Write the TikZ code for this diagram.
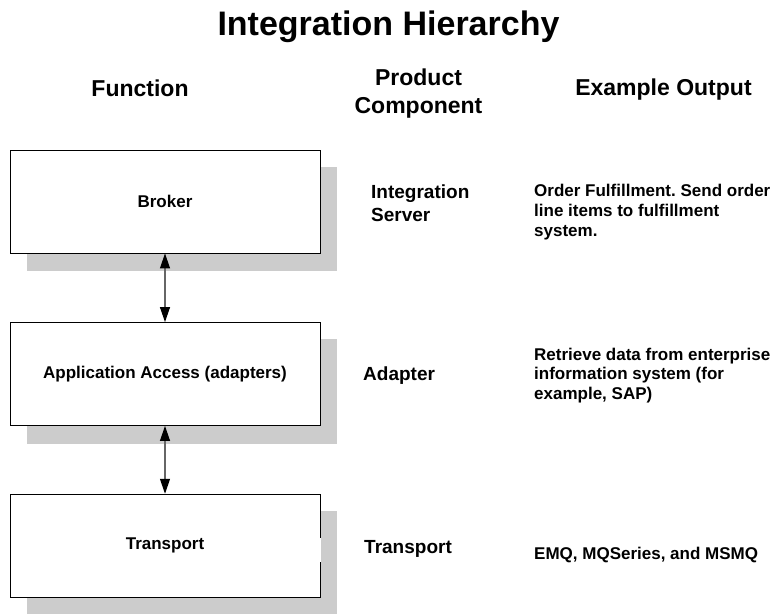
\documentclass[tikz,border=0pt]{standalone}
\usepackage{fontspec}
\setmainfont{Liberation Sans}
\usetikzlibrary{arrows.meta,calc,backgrounds}
\frenchspacing

\tikzset{
  layerbox/.style={draw=black, line width=0.9pt, fill=white,
    minimum width=310pt, minimum height=103pt, inner sep=0pt,
    font=\fontsize{17}{20}\selectfont\bfseries},
  dropshade/.style={fill=black!20},
  link/.style={draw=black!60, line width=1.2pt,
    {Triangle[length=15pt,width=10pt,color=black]}-{Triangle[length=15pt,width=10pt,color=black]}},
  titletext/.style={font=\fontsize{34}{40}\selectfont\bfseries, inner sep=0pt},
  headtext/.style={font=\fontsize{23}{28}\selectfont\bfseries, inner sep=0pt, align=center},
  comptext/.style={font=\fontsize{19}{23.4}\selectfont\bfseries, inner sep=0pt, align=left, anchor=base west},
  outtext/.style={font=\fontsize{17}{19.6}\selectfont\bfseries, inner sep=0pt, align=left, anchor=base west}
}

\begin{document}
\begin{tikzpicture}[x=1pt,y=-1pt]
\useasboundingbox (0,0) rectangle (776,613);

% title and column headings (multi-line nodes sit on the baseline of their last line)
\node[titletext, anchor=base] (title) at (388.5,35) {Integration Hierarchy};
\node[headtext, anchor=base] (hfunc) at (140,96.5) {Function};
\node[headtext, anchor=base] (hcomp) at (418.5,113) {Product\\Component};
\node[headtext, anchor=base] (hout) at (663.5,95.5) {Example Output};

% the three layers
\node[layerbox] (broker) at (165,201.5) {Broker};
\node[layerbox] (app) at (165,374) {Application Access (adapters)};
\node[layerbox] (tr) at (165,545.7) {Transport};

% drop shadows behind each layer
\begin{scope}[on background layer]
  \foreach \b in {broker,app,tr}
    \fill[dropshade] ($(\b.north west)+(17,17)$) rectangle ($(\b.south east)+(17,18)$);
\end{scope}

% small break in the right edge of the transport box
\draw[white, line width=1.6pt] ($(tr.north east)+(0,44)$) -- ($(tr.north east)+(0,68)$);

% connectors between the layers
\draw[link] (broker.south) -- (app.north);
\draw[link] (app.south) -- (tr.north);

% product components
\node[comptext] (c1) at (371,221.5) {Integration\\Server};
\node[comptext] (c2) at (363,380.7) {Adapter};
\node[comptext] (c3) at (364,553.5) {Transport};

% example outputs
\node[outtext] (o1) at (534,236) {Order Fulfillment. Send order\\line items to fulfillment\\system.};
\node[outtext] (o2) at (534,399.5) {Retrieve data from enterprise\\information system (for\\example, SAP)};
\node[outtext] (o3) at (534,559) {EMQ, MQSeries, and MSMQ};
\end{tikzpicture}
\end{document}
